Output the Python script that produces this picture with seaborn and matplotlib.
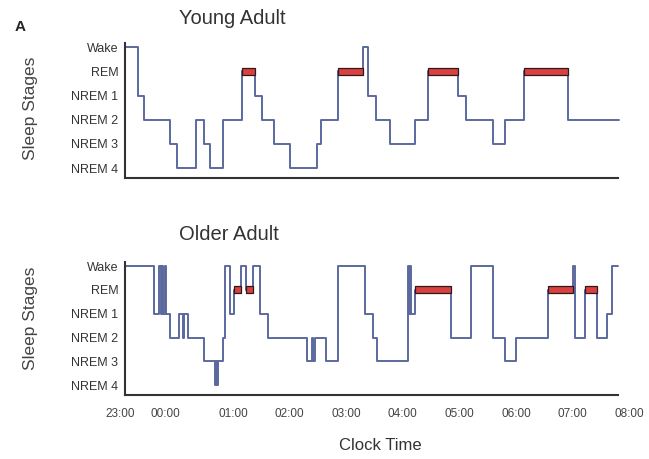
import pandas as pd
import matplotlib
matplotlib.use("Agg")
import matplotlib.pyplot as plt
import seaborn as sns

# sleep stages from bottom to top
STAGES = ["NREM 4", "NREM 3", "NREM 2", "NREM 1", "REM", "Wake"]

# hours after 23:00 at which each stage starts
young_t = [0.09, 0.32, 0.42, 0.88, 1.00, 1.35, 1.48, 1.60, 1.82, 2.16, 2.38,
           2.51, 2.73, 3.00, 3.49, 3.55, 3.85, 4.29, 4.39, 4.52, 4.77, 5.21,
           5.44, 5.98, 6.11, 6.60, 6.81, 7.14, 7.93]
young_stage = ["Wake", "NREM 1", "NREM 2", "NREM 3", "NREM 4", "NREM 2",
               "NREM 3", "NREM 4", "NREM 2", "REM", "NREM 1", "NREM 2",
               "NREM 3", "NREM 4", "NREM 3", "NREM 2", "REM", "Wake",
               "NREM 1", "NREM 2", "NREM 3", "NREM 2", "REM", "NREM 1",
               "NREM 2", "NREM 3", "NREM 2", "REM", "NREM 2"]
young_end = 8.83

older_t = [0.09, 0.61, 0.69, 0.72, 0.74, 0.76, 0.80, 0.82, 0.89, 1.05, 1.11,
           1.14, 1.21, 1.48, 1.68, 1.70, 1.71, 1.73, 1.82, 1.86, 1.94, 2.01,
           2.14, 2.23, 2.36, 2.47, 2.62, 3.30, 3.39, 3.41, 3.45, 3.65, 3.86,
           4.33, 4.48, 4.54, 5.09, 5.11, 5.12, 5.14, 5.21, 5.86, 6.21, 6.59,
           6.80, 7.01, 7.57, 8.01, 8.04, 8.22, 8.44, 8.61, 8.70]
older_stage = ["Wake", "NREM 1", "Wake", "NREM 1", "Wake", "NREM 1", "Wake",
               "NREM 1", "NREM 2", "NREM 1", "NREM 2", "NREM 1", "NREM 2",
               "NREM 3", "NREM 4", "NREM 3", "NREM 4", "NREM 3", "NREM 2",
               "Wake", "NREM 1", "REM", "Wake", "REM", "Wake", "NREM 1",
               "NREM 2", "NREM 3", "NREM 2", "NREM 3", "NREM 2", "NREM 3",
               "Wake", "NREM 1", "NREM 2", "NREM 3", "Wake", "NREM 1", "Wake",
               "NREM 1", "REM", "NREM 2", "Wake", "NREM 2", "NREM 3",
               "NREM 2", "REM", "Wake", "NREM 2", "REM", "NREM 2", "NREM 1",
               "Wake"]
older_end = 8.80

tick_pos = [0, 0.81, 2, 3, 4, 5, 6, 7, 8, 9]
tick_labels = ["23:00", "00:00", "01:00", "02:00", "03:00", "04:00",
               "05:00", "06:00", "07:00", "08:00"]

LINE = "#5b699f"
REM_RED = "#d9403f"
DARK = "#333333"

sns.set_style("white")
plt.rcParams["font.family"] = ["Liberation Sans", "DejaVu Sans"]


def DrawHypnogram(ax, t, stage, end):
    df = pd.DataFrame({
        "t": t + [end],
        "level": [STAGES.index(s) for s in stage + [stage[-1]]],
    })
    sns.lineplot(data=df, x="t", y="level", drawstyle="steps-post",
                 estimator=None, sort=False, color=LINE, lw=1.4, ax=ax)

    # REM periods as red bars
    stops = t[1:] + [end]
    for start, stop, s in zip(t, stops, stage):
        if s == "REM":
            ax.barh(STAGES.index("REM"), stop - start, left=start, height=0.3,
                    color=REM_RED, edgecolor="#2a1a1a", lw=0.9, zorder=3)

    ax.set_xlim(0, 9)
    ax.set_ylim(-0.41, 5.17)
    ax.set_yticks(range(len(STAGES)), STAGES)
    ax.set_xlabel("")
    ax.set_ylabel("")
    ax.tick_params(axis="y", length=0, pad=5, labelsize=9, labelcolor=DARK)

    for side in ["top", "right"]:
        ax.spines[side].set_visible(False)
    ax.spines["left"].set_position(("data", 0.09))
    ax.spines["bottom"].set_bounds(0.09, 8.8)
    for side in ["left", "bottom"]:
        ax.spines[side].set_color(DARK)
        ax.spines[side].set_linewidth(1.5)


fig = plt.figure(figsize=(6.49, 4.59), dpi=100)
ax_top = fig.add_axes([0.1849, 0.6122, 0.7843, 0.2941])
ax_bot = fig.add_axes([0.1849, 0.1394, 0.7843, 0.2898])

DrawHypnogram(ax_top, young_t, young_stage, young_end)
DrawHypnogram(ax_bot, older_t, older_stage, older_end)

ax_top.set_xticks([])
ax_bot.set_xticks(tick_pos, tick_labels)
ax_bot.tick_params(axis="x", length=0, pad=9, labelsize=8.5, labelcolor="#444444")

fig.text(0.031, 0.941, "A", fontsize=11, fontweight="bold", ha="center", va="center")
fig.text(232 / 649, 1 - 18 / 459, "Young Adult", fontsize=14.5, color=DARK,
         ha="center", va="center")
fig.text(229 / 649, 1 - 235 / 459, "Older Adult", fontsize=14.5, color=DARK,
         ha="center", va="center")
fig.text(30 / 649, 1 - 108 / 459, "Sleep Stages", fontsize=12.5, color="#444444",
         rotation=90, ha="center", va="center")
fig.text(30 / 649, 1 - 318 / 459, "Sleep Stages", fontsize=12.5, color="#444444",
         rotation=90, ha="center", va="center")
fig.text(380 / 649, 1 - 445 / 459, "Clock Time", fontsize=12, color=DARK,
         ha="center", va="center")

fig.savefig("out.png", dpi=100)
